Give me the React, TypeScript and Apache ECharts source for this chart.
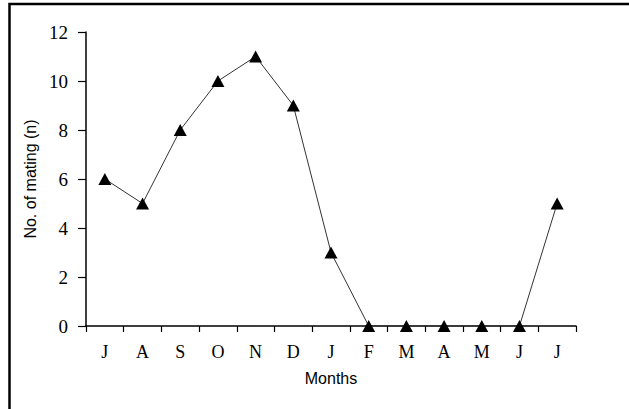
import React, { useEffect, useRef } from "react";
import * as echarts from "echarts";

const months = ["J", "A", "S", "O", "N", "D", "J", "F", "M", "A", "M", "J", "J"];
const matings = [6, 5, 8, 10, 11, 9, 3, 0, 0, 0, 0, 0, 5];
const yTicks = { min: 0, max: 12, interval: 2 };

export default function App() {
  const ref = useRef<HTMLDivElement>(null);
  useEffect(() => {
    if (!ref.current) return;
    const chart = echarts.init(ref.current, null, { renderer: "svg" });
    chart.setOption({
      animation: false,
      backgroundColor: "#ffffff",
      graphic: [
        {
          type: "rect",
          shape: { x: 9.5, y: 4, width: 700, height: 500 },
          style: { fill: "none", stroke: "#000", lineWidth: 2.5 },
          silent: true,
        },
      ],
      grid: { left: 86, right: 53, top: 32, bottom: 83 },
      xAxis: {
        type: "category",
        data: months,
        boundaryGap: true,
        name: "Months",
        nameLocation: "middle",
        nameGap: 44,
        nameTextStyle: { fontFamily: "Liberation Sans", fontSize: 16, color: "#000" },
        axisLine: { lineStyle: { color: "#000", width: 1.5 } },
        axisTick: { show: true, length: 6, lineStyle: { color: "#000", width: 1.2 } },
        axisLabel: {
          margin: 17,
          fontFamily: "Liberation Serif",
          fontSize: 18,
          fontWeight: "normal",
          color: "#000",
        },
        splitLine: { show: false },
      },
      yAxis: {
        type: "value",
        min: yTicks.min,
        max: yTicks.max,
        interval: yTicks.interval,
        name: "No. of mating (n)",
        nameLocation: "middle",
        nameGap: 38,
        nameTextStyle: { fontFamily: "Liberation Sans", fontSize: 16, color: "#000" },
        axisLine: { show: true, lineStyle: { color: "#000", width: 1.5 } },
        axisTick: { show: true, length: 8, lineStyle: { color: "#000", width: 1.2 } },
        axisLabel: {
          margin: 18,
          fontFamily: "Liberation Serif",
          fontSize: 19,
          color: "#000",
        },
        splitLine: { show: false },
      },
      series: [
        {
          type: "line",
          data: matings,
          symbol: "triangle",
          symbolSize: [13, 12],
          itemStyle: { color: "#000" },
          lineStyle: { color: "#333", width: 1 },
        },
      ],
    });
    return () => chart.dispose();
  }, []);
  return (
    <div
      ref={ref}
      style={{ position: "fixed", left: 0, top: 0, width: 629, height: 409 }}
    />
  );
}
